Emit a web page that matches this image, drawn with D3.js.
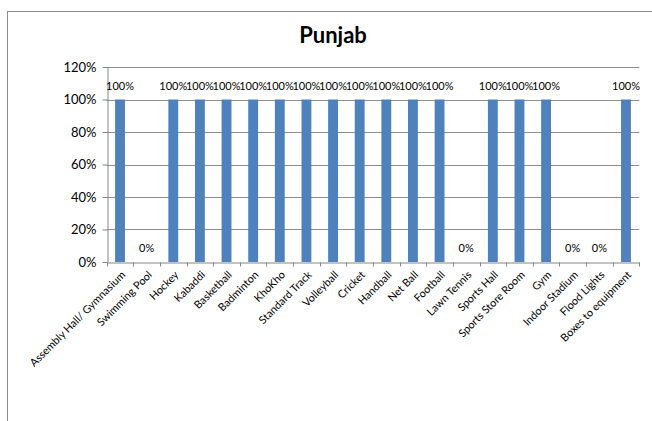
<!DOCTYPE html>
<html>
<head>
<meta charset="utf-8">
<script src="https://cdn.jsdelivr.net/npm/d3@7"></script>
<style>
  body { margin: 0; background: #fff; }
  svg { display: block; font-family: Lato, "Liberation Sans", sans-serif; }
</style>
</head>
<body>
<div id="chart"></div>
<script>
// data
var categories = ["Assembly Hall/ Gymnasium", "Swimming Pool", "Hockey", "Kabaddi", "Basketball",
  "Badminton", "KhoKho", "Standard Track", "Volleyball", "Cricket", "Handball", "Net Ball",
  "Football", "Lawn Tennis", "Sports Hall", "Sports Store Room", "Gym", "Indoor Stadium",
  "Flood Lights", "Boxes to equipment"];
var values = [1, 0, 1, 1, 1, 1, 1, 1, 1, 1, 1, 1, 1, 0, 1, 1, 1, 0, 0, 1];
var yTicks = [0, 0.2, 0.4, 0.6, 0.8, 1.0, 1.2];
var title = "Punjab";

//////////////////////// Set-Up ////////////////////////////
var W = 652, H = 421;
var plot = {left: 106.7, right: 639.3, top: 67, bottom: 262};

var svg = d3.select("#chart").append("svg")
  .attr("width", W)
  .attr("height", H);

// chart frame (runs off the right and bottom edge like the screenshot)
svg.append("rect")
  .attr("x", 7.5).attr("y", 11.5)
  .attr("width", 700).attr("height", 500)
  .attr("fill", "none")
  .attr("stroke", "#8c8c8c")
  .attr("stroke-width", 1);

var x = d3.scaleBand()
  .domain(categories)
  .range([plot.left, plot.right])
  .paddingInner(0.63)
  .paddingOuter(0.315);

var y = d3.scaleLinear()
  .domain([0, 1.2])
  .range([plot.bottom, plot.top]);

var pct = d3.format(".0%");

// gridlines
svg.append("g")
  .selectAll("line")
  .data(yTicks.filter(function(d) { return d > 0; }))
  .enter().append("line")
  .attr("x1", plot.left).attr("x2", plot.right)
  .attr("y1", function(d) { return Math.round(y(d)) + 0.5; })
  .attr("y2", function(d) { return Math.round(y(d)) + 0.5; })
  .attr("stroke", "#8f8f8f")
  .attr("stroke-width", 1);

// y axis
var yAxis = svg.append("g")
  .attr("transform", "translate(" + (Math.round(plot.left) + 0.5) + ",0)")
  .call(d3.axisLeft(y).tickValues(yTicks).tickFormat(pct).tickSize(5).tickSizeOuter(0));
yAxis.select(".domain").attr("stroke", "#868686");
yAxis.selectAll(".tick line").attr("stroke", "#868686");
yAxis.selectAll("text")
  .attr("font-family", "Lato, sans-serif")
  .attr("font-size", 13)
  .attr("fill", "#000")
  .attr("x", -11);

// bars
svg.append("g")
  .selectAll("rect")
  .data(values)
  .enter().append("rect")
  .attr("x", function(d, i) { return x(categories[i]); })
  .attr("width", x.bandwidth())
  .attr("y", function(d) { return y(d); })
  .attr("height", function(d) { return y(0) - y(d); })
  .attr("fill", "#4f81bd");

// value labels
svg.append("g")
  .selectAll("text")
  .data(values)
  .enter().append("text")
  .attr("x", function(d, i) { return x(categories[i]) + x.bandwidth() / 2; })
  .attr("y", function(d) { return y(d) - 10; })
  .attr("text-anchor", "middle")
  .attr("font-size", 11)
  .attr("fill", "#000")
  .text(function(d) { return pct(d); });

// x axis
var xAxis = svg.append("g")
  .attr("transform", "translate(0," + (Math.round(plot.bottom) + 0.5) + ")")
  .call(d3.axisBottom(x).tickSize(0).tickSizeOuter(0));
xAxis.select(".domain").attr("stroke", "#868686");
// tick marks between categories
xAxis.selectAll("line.sep")
  .data(d3.range(categories.length + 1))
  .enter().append("line")
  .attr("class", "sep")
  .attr("x1", function(i) { return Math.round(plot.left + i * x.step()) + 0.5; })
  .attr("x2", function(i) { return Math.round(plot.left + i * x.step()) + 0.5; })
  .attr("y1", 0).attr("y2", 4)
  .attr("stroke", "#868686");
xAxis.selectAll(".tick text")
  .attr("font-family", "Lato, sans-serif")
  .attr("font-size", 10.8)
  .attr("fill", "#000")
  .attr("text-anchor", "end")
  .attr("dy", null)
  .attr("y", 0)
  .attr("transform", "translate(6,13) rotate(-45)");

// title
svg.append("text")
  .attr("x", 333)
  .attr("y", 43)
  .attr("text-anchor", "middle")
  .attr("font-size", 22)
  .attr("font-weight", "bold")
  .text(title);
</script>
</body>
</html>
